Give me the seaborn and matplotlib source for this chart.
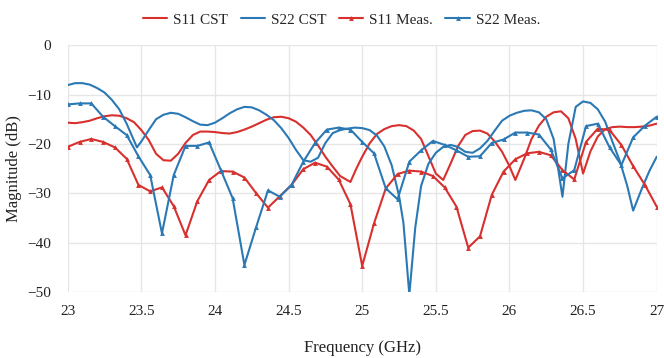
import numpy as np
import pandas as pd
import matplotlib
matplotlib.use("Agg")
import matplotlib.pyplot as plt
from matplotlib.ticker import FuncFormatter
import seaborn as sns

# simulated (CST) curves
f_s11_cst = [23.00, 23.05, 23.10, 23.15, 23.20, 23.25, 23.30, 23.35, 23.40, 23.45,
             23.50, 23.55, 23.60, 23.65, 23.70, 23.75, 23.80, 23.85, 23.90, 23.95,
             24.00, 24.05, 24.10, 24.15, 24.20, 24.25, 24.30, 24.35, 24.40, 24.45,
             24.50, 24.55, 24.60, 24.65, 24.70, 24.75, 24.80, 24.85, 24.92, 24.96,
             25.00, 25.05, 25.10, 25.15, 25.20, 25.25, 25.30, 25.35, 25.40, 25.45,
             25.50, 25.55, 25.60, 25.65, 25.70, 25.75, 25.80, 25.85, 25.90, 25.95,
             26.00, 26.04, 26.10, 26.15, 26.20, 26.25, 26.30, 26.35, 26.40, 26.45,
             26.50, 26.55, 26.60, 26.65, 26.70, 26.75, 26.80, 26.85, 26.90, 26.95,
             27.00]
s11_cst = [-15.7, -15.8, -15.6, -15.3, -14.8, -14.4, -14.2, -14.3, -14.8, -15.6,
           -17.2, -19.2, -22.0, -23.3, -23.4, -22.0, -19.8, -18.2, -17.5, -17.5,
           -17.6, -17.8, -17.9, -17.6, -17.1, -16.5, -15.8, -15.1, -14.6, -14.5,
           -14.8, -15.5, -16.7, -18.2, -20.3, -22.6, -24.6, -26.5, -27.7, -25.0,
           -22.6, -19.9, -18.0, -17.0, -16.4, -16.2, -16.4, -17.3, -19.0, -22.5,
           -26.0, -27.3, -24.0, -20.5, -18.2, -17.4, -17.3, -17.9, -19.5, -21.6,
           -24.5, -27.3, -23.0, -19.0, -16.3, -14.5, -13.6, -13.4, -14.8, -19.0,
           -26.0, -21.5, -18.5, -17.0, -16.6, -16.5, -16.6, -16.6, -16.5, -16.3,
           -15.9]

f_s22_cst = [23.00, 23.05, 23.10, 23.15, 23.20, 23.25, 23.30, 23.35, 23.40, 23.47,
             23.50, 23.55, 23.60, 23.65, 23.70, 23.75, 23.80, 23.85, 23.90, 23.95,
             24.00, 24.05, 24.10, 24.15, 24.20, 24.25, 24.30, 24.35, 24.40, 24.45,
             24.50, 24.55, 24.60, 24.65, 24.70, 24.75, 24.80, 24.85, 24.90, 24.95,
             25.00, 25.05, 25.10, 25.15, 25.20, 25.25, 25.28, 25.32, 25.36, 25.40,
             25.45, 25.50, 25.55, 25.60, 25.65, 25.70, 25.75, 25.80, 25.85, 25.90,
             25.95, 26.00, 26.05, 26.10, 26.15, 26.20, 26.25, 26.30, 26.36, 26.40,
             26.45, 26.50, 26.55, 26.60, 26.65, 26.70, 26.75, 26.80, 26.84, 26.90,
             26.95, 27.00]
s22_cst = [-8.1, -7.7, -7.7, -8.0, -8.7, -9.6, -11.1, -13.0, -15.9, -20.7,
           -19.5, -17.2, -15.0, -14.1, -13.7, -13.9, -14.6, -15.4, -16.1, -16.2,
           -15.7, -14.8, -13.8, -13.0, -12.5, -12.6, -13.2, -14.1, -15.2, -16.8,
           -18.8, -21.2, -23.3, -23.6, -22.8, -19.8, -17.8, -17.2, -16.9, -16.7,
           -16.8, -17.2, -18.3, -20.5, -24.3, -30.5, -36.0, -50.5, -37.0, -28.5,
           -24.0, -21.8, -20.6, -20.2, -20.6, -21.6, -21.8, -20.9, -19.4, -17.3,
           -15.3, -14.3, -13.7, -13.3, -13.2, -13.6, -15.0, -19.0, -30.7, -20.0,
           -12.5, -11.4, -11.7, -13.0, -15.5, -19.6, -23.5, -28.5, -33.5, -29.0,
           -25.5, -22.6]

# measured curves, one point every 0.08 GHz
f_meas = [round(23 + 0.08 * i, 2) for i in range(51)]
s11_meas = [-20.6, -19.6, -19.0, -19.6, -20.7, -23.0, -28.3, -29.6, -28.8, -32.6,
            -38.5, -31.6, -27.3, -25.5, -25.6, -26.8, -30.0, -32.9, -30.6, -28.3,
            -25.1, -23.8, -24.6, -27.2, -32.2, -44.7, -36.1, -29.0, -26.1, -25.4,
            -25.6, -26.5, -28.8, -32.7, -41.0, -38.7, -30.3, -25.6, -23.1, -21.9,
            -21.6, -22.3, -25.3, -27.2, -19.6, -16.9, -17.2, -20.2, -24.5, -28.3,
            -32.7]
s22_meas = [-12.0, -11.8, -11.8, -14.5, -16.4, -18.2, -22.5, -26.3, -38.1, -26.3,
            -20.4, -20.4, -19.7, -25.3, -31.0, -44.5, -36.8, -29.4, -30.7, -28.3,
            -23.6, -19.8, -17.1, -16.7, -17.1, -19.6, -21.9, -29.0, -31.2, -23.6,
            -21.3, -19.4, -20.2, -21.3, -22.6, -22.5, -19.8, -19.1, -17.7, -17.7,
            -18.1, -21.1, -27.0, -25.3, -16.4, -15.9, -20.7, -24.3, -18.7, -16.3,
            -14.5]

red = "#d7302e"
blue = "#2b79b4"

sns.set_theme(style="whitegrid")
plt.rcParams["font.family"] = ["Liberation Serif", "DejaVu Serif"]
plt.rcParams["axes.unicode_minus"] = True

fig, ax = plt.subplots(figsize=(6.64, 3.58), dpi=100)
fig.subplots_adjust(left=0.102, right=0.989, top=0.874, bottom=0.184)

sns.lineplot(x=f_s11_cst, y=s11_cst, ax=ax, color=red, lw=1.5, label="S11 CST")
sns.lineplot(x=f_s22_cst, y=s22_cst, ax=ax, color=blue, lw=1.5, label="S22 CST")
sns.lineplot(x=f_meas, y=s11_meas, ax=ax, color=red, lw=1.5, marker="^",
             markersize=3.5, markeredgewidth=0, label="S11 Meas.")
sns.lineplot(x=f_meas, y=s22_meas, ax=ax, color=blue, lw=1.5, marker="^",
             markersize=3.5, markeredgewidth=0, label="S22 Meas.")

ax.set_xlim(23, 27)
ax.set_ylim(-50, 0)
ax.set_xticks(np.arange(23, 27.01, 0.5))
ax.set_yticks(np.arange(-50, 1, 10))
ax.xaxis.set_major_formatter(FuncFormatter(lambda v, p: f"{v:g}"))
ax.yaxis.set_major_formatter(FuncFormatter(lambda v, p: f"{v:g}".replace("-", "\u2212")))
ax.tick_params(axis="both", labelsize=11, colors="#222222")
ax.tick_params(axis="x", pad=3)
ax.tick_params(axis="y", pad=6)
ax.grid(color="#e6e6e6", lw=1)
for s in ax.spines.values():
    s.set_visible(False)

ax.set_xlabel("Frequency (GHz)", fontsize=12, color="#222222", labelpad=16)
ax.set_ylabel("Magnitude (dB)", fontsize=12, color="#222222", labelpad=4)

ax.legend(loc="lower center", bbox_to_anchor=(0.465, 1.05), ncol=4, frameon=False,
          fontsize=11, handlelength=1.6, columnspacing=0.8, handletextpad=0.4,
          borderaxespad=0)

fig.savefig("out.png", dpi=100)
